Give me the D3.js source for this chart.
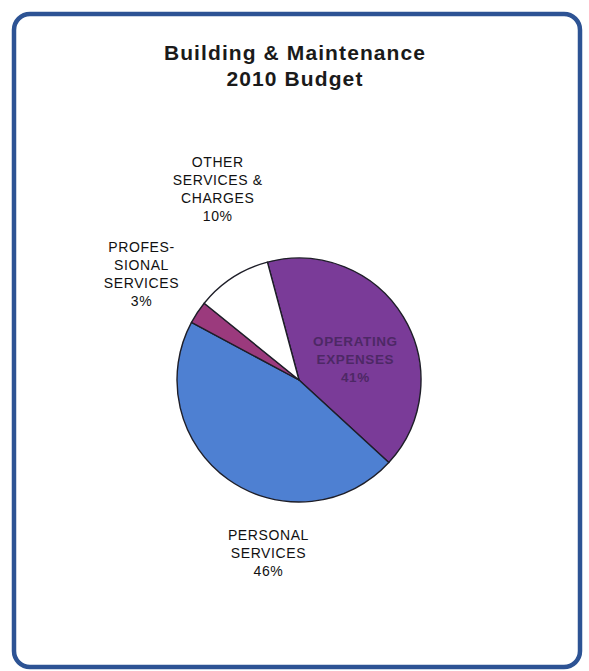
<!DOCTYPE html>
<html>
<head>
<meta charset="utf-8">
<script src="https://cdn.jsdelivr.net/npm/d3@7"></script>
<style>
  html, body { margin: 0; padding: 0; background: #ffffff; }
  svg { display: block; }
  text { font-family: "Liberation Sans", Arial, sans-serif; }
</style>
</head>
<body>
<svg id="chart" width="589" height="671"></svg>
<script>
// Budget categories, in drawing order (clockwise from the top)
const categories = ["OPERATING EXPENSES", "PERSONAL SERVICES", "PROFESSIONAL SERVICES", "OTHER SERVICES & CHARGES"];
// Share of the budget, percent
const shares = [41, 46, 3, 10];
// Label lines for each category
const labelLines = [
  ["OPERATING", "EXPENSES"],
  ["PERSONAL", "SERVICES"],
  ["PROFES-", "SIONAL", "SERVICES"],
  ["OTHER", "SERVICES &", "CHARGES"]
];
const titleLines = ["Building & Maintenance", "2010 Budget"];

const svg = d3.select("#chart");

// Rounded frame
svg.append("rect")
  .attr("x", 14).attr("y", 14)
  .attr("width", 566).attr("height", 653)
  .attr("rx", 16).attr("ry", 16)
  .attr("fill", "#ffffff")
  .attr("stroke", "#2d5394")
  .attr("stroke-width", 4.5);

// Title
svg.append("text")
  .attr("x", 295).attr("y", 60)
  .attr("text-anchor", "middle")
  .attr("font-size", 21)
  .attr("font-weight", "bold")
  .attr("letter-spacing", 1.1)
  .attr("fill", "#1a1a1a")
  .selectAll("tspan").data(titleLines).join("tspan")
  .attr("x", 295)
  .attr("dy", (d, i) => i === 0 ? 0 : 26)
  .text(d => d);

const cx = 299, cy = 380, r = 122;
const colors = d3.scaleOrdinal()
  .domain(categories)
  .range(["#7a3b98", "#4e80d2", "#9b3a7d", "#ffffff"]);

const startDeg = -15;
const pie = d3.pie()
  .sort(null)
  .value(d => d.value)
  .startAngle(startDeg * Math.PI / 180)
  .endAngle((startDeg + 360) * Math.PI / 180);

const data = categories.map((c, i) => ({ name: c, value: shares[i], lines: labelLines[i] }));
const arcs = pie(data);
const arc = d3.arc().innerRadius(0).outerRadius(r);

const g = svg.append("g").attr("transform", `translate(${cx},${cy})`);

g.selectAll("path.slice").data(arcs).join("path")
  .attr("class", "slice")
  .attr("d", arc)
  .attr("fill", d => colors(d.data.name))
  .attr("stroke", "#1e1e28")
  .attr("stroke-width", 1.4)
  .attr("stroke-linejoin", "round");

// Label placement: polar offset (degrees clockwise from top, distance) from the pie centre
const labelPlacement = {
  "OPERATING EXPENSES": { deg: 70, dist: 60, inside: true },
  "PERSONAL SERVICES": { deg: 190, dist: 176 },
  "PROFESSIONAL SERVICES": { deg: 304, dist: 190 },
  "OTHER SERVICES & CHARGES": { deg: 337, dist: 208 }
};

const lineH = 18;
arcs.forEach(a => {
  const p = labelPlacement[a.data.name];
  const ang = p.deg * Math.PI / 180;
  const lx = Math.sin(ang) * p.dist;
  const ly = -Math.cos(ang) * p.dist;
  const lines = a.data.lines.concat([d3.format("d")(a.data.value) + "%"]);
  const n = lines.length;
  const t = g.append("text")
    .attr("text-anchor", "middle")
    .attr("font-size", p.inside ? 13.5 : 14)
    .attr("font-weight", p.inside ? "bold" : "normal")
    .attr("letter-spacing", p.inside ? 0.6 : 0.6)
    .attr("fill", p.inside ? "#3a2150" : "#111111")
    .attr("opacity", p.inside ? 0.7 : 1);
  t.selectAll("tspan").data(lines).join("tspan")
    .attr("x", lx)
    .attr("y", (d, i) => ly + (i - (n - 1) / 2) * lineH + 5)
    .text(d => d);
});
</script>
</body>
</html>
